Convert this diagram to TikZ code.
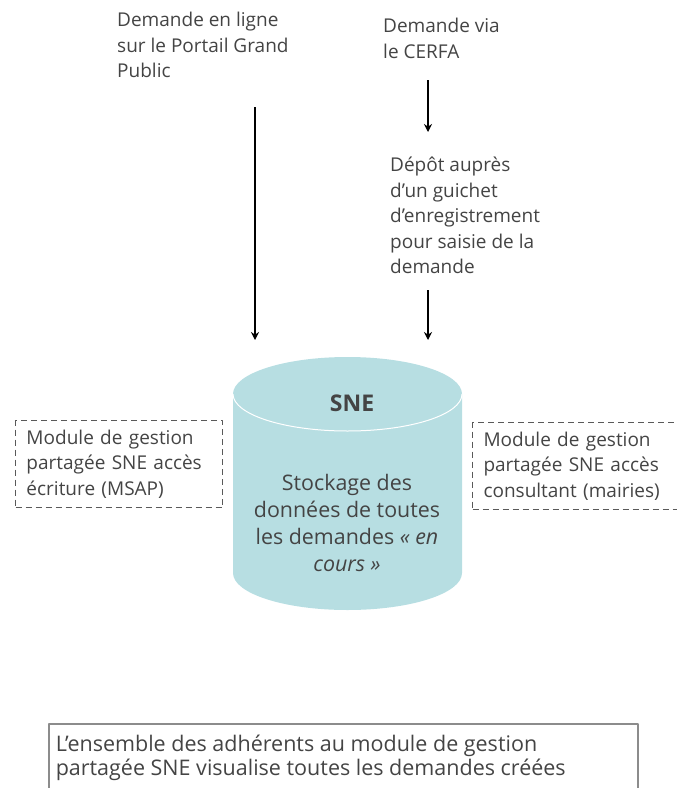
\documentclass[tikz,border=0pt]{standalone}
\usepackage{fontspec}
\setmainfont{Open Sans}
\usetikzlibrary{arrows.meta}
\definecolor{snefill}{RGB}{183,222,226}
\definecolor{txtgray}{RGB}{68,68,68}
\begin{document}
\begin{tikzpicture}[x=1pt,y=1pt,line join=round,>={Stealth[length=8pt,width=8pt]},
	txt/.style={anchor=north west,inner sep=0pt,align=left,text=txtgray,font=\fontsize{19}{25.5}\selectfont},
	modbox/.style={txt,draw=black!65,dash pattern=on 6pt off 4pt,line width=1pt,inner xsep=11pt,minimum height=87pt},
	fleche/.style={->,line width=1.5pt}]
	\useasboundingbox (0,0) rectangle (677,-788);
	\def\rx{114.5}
	\def\ry{37}
	\path
	(233,-394) coordinate (TL)
	(462,-394) coordinate (TR)
	(233,-573) coordinate (BL)
	(255,-107) coordinate (a1) (255,-340) coordinate (a2)
	(428,-80) coordinate (b1) (428,-132) coordinate (b2)
	(428,-290) coordinate (c1) (428,-340) coordinate (c2)
	;
	% cylindre SNE
	\fill[snefill] (TL)--(BL) arc[start angle=180,end angle=360,x radius=\rx,y radius=\ry]--(TR) arc[start angle=0,end angle=180,x radius=\rx,y radius=\ry]--cycle;
	\draw[white,line width=1pt] (TL) arc[start angle=180,end angle=360,x radius=\rx,y radius=\ry];
	\node[text=txtgray,font=\fontsize{23}{27}\selectfont\bfseries] (sne) at (352,-403) {SNE};
	\node[text=txtgray,align=center,font=\fontsize{21.4}{27}\selectfont] (stock) at (347,-523) {Stockage des\\données de toutes\\les demandes \textit{« en}\\\textit{cours »}};
	% demandes
	\node[txt] (ligne) at (117,-12) {Demande en ligne\\sur le Portail Grand\\Public};
	\node[txt] (cerfa) at (383,-18) {Demande via\\le CERFA};
	\node[txt] (depot) at (390,-157) {Dépôt auprès\\d'un guichet\\d'enregistrement\\pour saisie de la\\demande};
	\draw[fleche] (a1)--(a2);
	\draw[fleche] (b1)--(b2);
	\draw[fleche] (c1)--(c2);
	% modules
	\node[modbox,text width=185pt] (msap) at (15,-420) {Module de gestion\\partagée SNE accès\\écriture (MSAP)};
	\node[modbox,text width=200pt] (mairies) at (472,-422) {Module de gestion\\partagée SNE accès\\consultant (mairies)};
	\node[txt,draw=black!45,line width=1.5pt,inner xsep=7pt,inner ysep=11pt,font=\fontsize{21.5}{24}\selectfont] (adh) at (48,-723) {\parbox[t][70pt][t]{575pt}{\raggedright L'ensemble des adhérents au module de gestion\\partagée SNE visualise toutes les demandes créées}};
\end{tikzpicture}
\end{document}
